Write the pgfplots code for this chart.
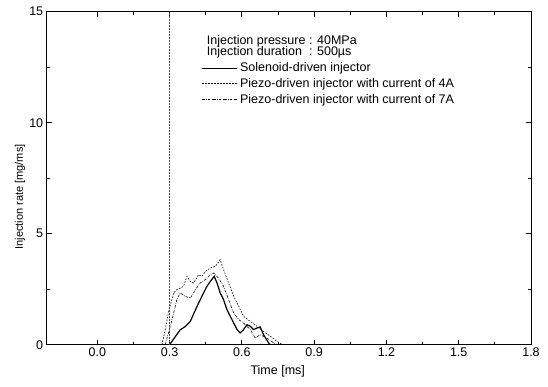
\documentclass[border=0pt]{standalone}
\usepackage{pgfplots}
\pgfplotsset{compat=1.18}
\usepackage{fontspec}
\setmainfont{Liberation Sans}
\begin{document}
\begin{tikzpicture}
\path[use as bounding box] (-46.7pt,-41.3pt) rectangle (501.3pt,344.7pt);
\begin{axis}[
  anchor=south west, at={(0pt,0pt)},
  scale only axis, width=484.3pt, height=333pt,
  xmin=-0.21, xmax=1.8, ymin=0, ymax=15,
  xtick={0,0.3,...,1.8}, ytick={0,5,10,15},
  minor x tick num=1, minor y tick num=1,
  major tick length=5pt, minor tick length=3pt,
  tick style={black, line width=0.8pt},
  axis line style={line width=1pt},
  xticklabel style={/pgf/number format/.cd, fixed, fixed zerofill, precision=1},
  /pgf/number format/assume math mode=true,
  tick label style={font=\fontsize{12.5}{14}\selectfont},
  xlabel={Time [ms]}, ylabel={Injection rate [mg/ms]},
  xlabel style={font=\fontsize{12.5}{14}\selectfont, at={(rel axis cs:0.477,0)}, anchor=north, yshift=-17pt},
  ylabel style={font=\fontsize{11}{13}\selectfont, at={(rel axis cs:0,0.444)}, anchor=south, yshift=18pt},
  legend style={at={(rel axis cs:0.32,0.853)}, anchor=north west, draw=none, fill=none,
    font=\fontsize{12.5}{14}\selectfont, inner sep=0pt, row sep=1pt,
    /tikz/every even column/.append style={column sep=2pt}},
  legend cell align=left,
  legend image code/.code={\draw[#1] (0pt,0pt) -- (35pt,0pt);},
]
\addplot[black, line width=1.2pt] coordinates {
(0.30,0) (0.344,0.67) (0.365,0.82) (0.386,1.05) (0.414,1.73) (0.434,2.18) (0.455,2.63)
(0.469,2.85) (0.485,3.08) (0.497,2.78) (0.510,2.33) (0.524,2.03) (0.538,1.58) (0.552,1.28)
(0.566,0.98) (0.580,0.68) (0.593,0.53) (0.607,0.68) (0.621,0.90) (0.635,0.83) (0.649,0.68)
(0.662,0.75) (0.676,0.80) (0.690,0.45) (0.711,0.08) (0.718,0)
};
\addlegendentry{Solenoid-driven injector}
\addplot[black, line width=0.6pt, dash pattern=on 1.6pt off 1.4pt] coordinates {
(0.268,0) (0.282,0.67) (0.296,1.5) (0.317,2.33) (0.330,2.48) (0.344,2.55) (0.358,2.63)
(0.372,3.08) (0.386,2.85) (0.400,2.78) (0.420,3.15) (0.434,3.08) (0.448,3.30) (0.469,3.45)
(0.490,3.53) (0.510,3.83) (0.524,3.38) (0.545,2.78) (0.566,2.18) (0.587,1.73) (0.607,1.28)
(0.635,1.05) (0.662,0.83) (0.690,0.60) (0.718,0.38) (0.746,0.15) (0.77,0)
};
\addlegendentry{Piezo-driven injector with current of 4A}
\addplot[black, line width=0.6pt, dash pattern=on 2.5pt off 1.2pt on 0.6pt off 1.2pt] coordinates {
(0.282,0) (0.303,0.83) (0.317,1.43) (0.330,2.03) (0.344,2.33) (0.365,2.18) (0.386,2.10)
(0.407,2.48) (0.427,2.78) (0.448,2.93) (0.469,3.15) (0.483,3.23) (0.503,3.00) (0.524,2.63)
(0.545,2.03) (0.566,1.43) (0.587,1.13) (0.607,0.98) (0.635,0.68) (0.655,0.30) (0.676,0.45)
(0.704,0.30) (0.732,0.08) (0.746,0)
};
\addlegendentry{Piezo-driven injector with current of 7A}
\addplot[black!70, line width=0.5pt, densely dotted, forget plot] coordinates {(0.3,0) (0.3,15)};
\node[anchor=north west, inner sep=0pt, font=\fontsize{12.5}{11.7}\selectfont, align=left]
  at (axis cs:0.454,13.95) {Injection pressure : 40MPa\\Injection duration\ \ : 500µs};
\end{axis}
\end{tikzpicture}
\end{document}
